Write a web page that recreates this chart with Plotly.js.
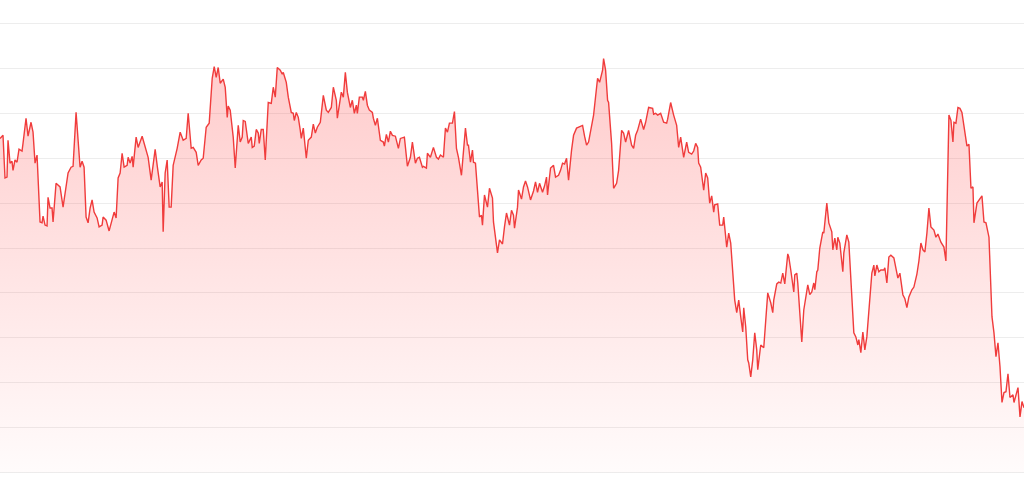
<!DOCTYPE html>
<html>
<head>
<meta charset="utf-8">
<script src="https://cdn.plot.ly/plotly-3.0.1.min.js"></script>
<style>html,body{margin:0;padding:0;background:#fff;}#chart{width:1024px;height:500px;}</style>
</head>
<body>
<div id="chart"></div>
<script>
// sample index (time) of each observation
var days = [0,3,5,7,8,10,12,13,15,17,19,22,23,26,28,31,33,35,37,40,42,43,45,47,48,50,52,53,56,60,63,68,71,73,76,80,82,84,86,88,90,92,94,97,99,102,103,106,109,112,114,116,118,120,
122,124,127,128,130,132,133,136,138,142,145,148,151,155,157,160,162,163,165,167,169,171,173,177,180,183,186,188,191,193,196,198,201,203,206,209,212,214,216,218,220,223,225,227,228,230,
233,235,238,240,242,243,245,247,248,251,252,254,256,258,259,261,263,265,268,271,273,275,277,280,282,283,286,288,291,293,294,296,298,300,301,303,304,306,308,311,313,315,317,320,323,326,328,331,333,336,337,
341,343,345,347,350,352,354,356,357,359,362,363,365,367,369,372,373,375,377,380,383,384,386,388,390,392,395,398,400,404,407,410,412,415,417,419,422,423,426,427,430,433,436,438,440,443,445,447,449,452,454,456,458,
461,463,465,467,468,470,472,473,475,477,479,481,482,484,487,489,492,493,495,497,499,502,504,506,509,511,513,514,517,518,521,523,525,527,530,533,535,537,539,542,544,546,547,550,553,555,558,560,562,564,566,568,
571,573,576,578,582,584,586,588,591,593,597,599,602,603,605,607,608,611,613,616,618,621,623,625,628,631,633,635,637,640,643,645,648,652,653,655,657,660,663,666,667,670,673,676,678,680,683,686,688,691,
693,695,697,698,700,703,705,707,709,711,713,714,717,719,722,723,726,728,730,732,734,736,738,740,742,743,745,747,748,750,752,754,756,757,760,763,765,767,770,772,773,776,778,780,782,784,787,788,790,793,794,796,797,
801,803,806,807,809,811,813,814,816,817,819,822,823,826,828,831,832,834,836,837,839,842,843,846,848,850,853,855,857,858,860,862,864,866,868,871,873,874,876,878,880,883,884,886,888,890,893,895,897,899,902,904,906,908,911,913,916,918,920,922,924,926,928,
930,933,935,937,940,943,945,948,950,952,953,955,957,959,961,963,964,966,968,970,972,973,976,978,981,983,985,988,991,993,995,997,999,1001,1003,1005,1007,1009,1012,1013,1016,1017,1019,1021,1023];

// observed value at each sample
var values = [74.4,75.1,65.6,65.8,74.0,68.9,69.3,67.3,69.6,69.1,72.0,71.6,73.3,78.9,74.9,78.0,75.8,68.9,70.7,55.8,55.6,57.1,55.1,54.9,61.3,58.9,58.9,55.8,64.4,63.6,59.1,66.7,68.0,68.2,80.2,68.0,69.3,68.0,56.9,55.6,58.9,60.7,58.0,56.7,54.7,55.1,56.9,56.2,53.8,56.7,58.0,56.7,65.6,66.7,
71.1,68.0,68.4,70.2,68.9,70.4,68.0,74.7,72.4,74.9,72.4,70.2,65.1,72.0,68.4,63.6,64.7,53.6,66.7,69.6,59.1,59.1,68.4,72.2,75.8,74.0,74.4,80.0,72.2,72.4,71.3,68.4,69.6,70.0,76.9,77.8,87.8,90.4,88.0,90.2,86.7,87.6,85.8,79.1,81.6,80.7,
74.7,67.8,77.3,73.6,74.7,78.4,78.2,74.0,73.3,74.7,72.4,72.7,76.4,75.6,73.3,76.4,76.4,69.6,82.4,82.2,85.8,83.6,90.2,89.6,88.7,89.1,86.9,83.6,80.2,80.0,78.4,80.2,79.1,76.2,74.4,76.7,74.0,70.0,74.0,74.7,77.6,75.6,76.9,78.0,84.0,80.7,80.2,81.3,85.8,82.9,78.9,
84.7,83.6,89.1,84.7,81.3,82.9,80.0,81.8,80.0,83.6,83.6,82.9,84.9,81.8,80.7,80.2,78.9,77.3,78.9,74.0,73.6,72.7,75.3,73.6,76.0,75.1,74.9,72.2,74.4,74.7,68.2,70.2,73.6,68.9,70.0,70.2,68.0,68.2,67.8,71.1,70.2,72.4,70.2,69.8,70.7,70.2,76.7,75.8,77.8,77.8,80.4,72.2,70.2,
66.2,71.8,76.7,72.9,72.9,69.1,71.8,69.1,68.9,62.9,56.9,57.3,55.1,61.8,59.1,63.3,61.1,55.8,51.8,48.9,51.8,50.9,54.7,57.8,55.1,58.4,57.3,54.4,59.1,62.9,60.9,63.6,64.9,63.6,60.7,62.7,64.7,62.4,64.4,62.4,63.8,65.8,61.8,67.8,68.4,65.8,66.2,67.3,68.9,68.7,70.0,65.1,
71.8,75.1,76.7,76.9,77.3,74.9,72.9,73.6,77.3,79.6,87.8,86.9,89.6,92.2,89.6,82.9,82.4,73.3,63.3,64.4,67.3,76.2,75.6,73.6,76.2,72.9,72.2,75.1,76.2,78.7,76.4,78.0,81.3,81.1,79.8,80.0,79.6,80.0,78.0,77.8,78.7,82.4,79.6,77.3,72.4,74.7,70.2,73.6,71.3,70.9,
71.6,73.3,72.4,68.9,68.0,62.9,66.7,65.6,60.0,61.6,58.0,59.6,59.8,55.1,55.1,56.9,50.2,53.3,51.1,43.6,38.4,35.6,38.4,34.7,31.3,36.7,32.4,25.1,24.4,21.3,25.1,31.1,27.3,22.9,28.4,27.8,33.6,40.0,37.8,35.6,38.4,42.0,42.4,42.2,44.4,42.0,48.7,48.0,45.1,40.2,44.0,44.4,42.2,
29.1,36.2,41.3,41.8,39.6,40.2,42.2,40.7,44.7,45.1,50.0,53.6,53.3,60.0,55.6,53.6,49.6,52.2,49.6,52.4,51.1,44.7,48.9,52.9,51.3,42.2,31.1,30.2,28.4,29.6,26.7,31.3,27.3,30.2,36.2,44.4,46.2,43.8,46.2,44.7,45.1,45.1,45.6,42.2,48.0,48.4,47.8,45.1,43.3,44.4,39.6,38.7,36.7,39.1,40.7,41.3,44.2,47.1,51.1,49.6,49.1,53.3,58.9,
54.7,54.0,52.4,53.1,51.3,50.2,47.1,79.6,78.4,73.6,78.0,77.8,81.3,81.1,80.2,77.3,75.8,72.7,73.1,63.3,63.6,55.6,60.0,60.7,61.6,55.8,55.6,52.4,34.7,31.1,25.8,28.9,23.6,15.6,17.8,18.0,22.0,16.7,17.3,15.6,17.8,18.9,12.4,15.8,14.4];

var trace = {
  x: days,
  y: values,
  type: 'scatter',
  mode: 'lines',
  line: {color: '#f03c3c', width: 1.4},
  fill: 'tozeroy',
  fillgradient: {
    type: 'vertical',
    colorscale: [[0, 'rgba(255,70,70,0.02)'], [1, 'rgba(255,70,70,0.28)']]
  },
  hoverinfo: 'skip'
};

var layout = {
  width: 1024,
  height: 500,
  margin: {l: 0, r: 0, t: 19, b: 23},
  paper_bgcolor: '#ffffff',
  plot_bgcolor: '#ffffff',
  showlegend: false,
  xaxis: {range: [0, 1023], showgrid: false, zeroline: false, showticklabels: false, ticks: '', showline: false, fixedrange: true},
  yaxis: {range: [-1, 101], dtick: 10, tick0: 0, showgrid: true, gridcolor: '#ededed', gridwidth: 1, zeroline: false, showticklabels: false, ticks: '', showline: false, fixedrange: true}
};

Plotly.newPlot('chart', [trace], layout, {displayModeBar: false, staticPlot: true});
</script>
</body>
</html>
